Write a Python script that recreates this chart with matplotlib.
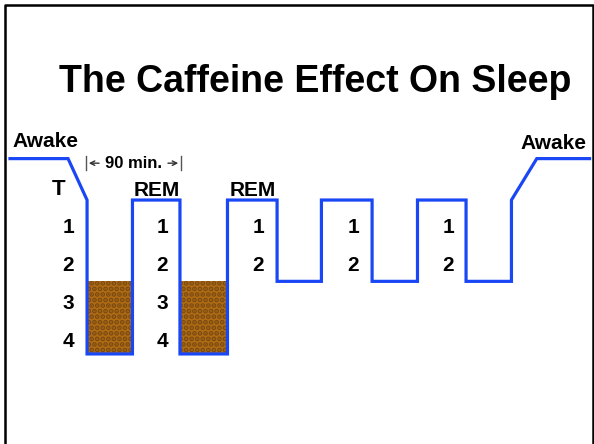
import matplotlib.pyplot as plt
from matplotlib.lines import Line2D

plt.rcParams['font.family'] = ['Liberation Sans', 'DejaVu Sans']
plt.rcParams['hatch.linewidth'] = 2.5

# hypnogram: time (min) and depth (awake < REM top < stage 2 floor < stage 4 floor)
AWAKE, TOP, FLOOR2, FLOOR4 = -0.8, 0.29, 2.43, 4.34
times = [0, 55, 73, 73, 116, 116, 161, 161, 206, 206, 253, 253, 295, 295,
         343, 343, 386, 386, 432, 432, 475, 475, 499, 549]
depths = [AWAKE, AWAKE, TOP, FLOOR4, FLOOR4, TOP, TOP, FLOOR4, FLOOR4, TOP,
          TOP, FLOOR2, FLOOR2, TOP, TOP, FLOOR2, FLOOR2, TOP, TOP, FLOOR2,
          FLOOR2, TOP, AWAKE, AWAKE]

# caffeine-shaded deep sleep windows (start, end)
caffeine = [(73, 116), (161, 206)]

# stage label columns: (time, labels)
columns = [(55, ['1', '2', '3', '4']),
           (144, ['1', '2', '3', '4']),
           (235, ['1', '2']),
           (325, ['1', '2']),
           (415, ['1', '2'])]
rem_labels = [139, 230]
cycle_start, cycle_end = 72, 162

blue = '#1a47f5'

fig = plt.figure(figsize=(5.94, 4.44), dpi=100)
ax = fig.add_axes([0, 0, 1, 1])
ax.set_xlim(-9.47, 553.2)
ax.set_ylim(6.71, -4.974)
ax.axis('off')

for a, b in caffeine:
    ax.fill_between([a, b], FLOOR2, FLOOR4, facecolor='#b06c12',
                    edgecolor='#7a4a14', hatch='...', linewidth=0, zorder=1)

ax.plot(times, depths, color=blue, lw=2.3, solid_joinstyle='miter', zorder=2)

for t, labs in columns:
    for i, s in enumerate(labs):
        ax.text(t, i + 1, s, ha='center', va='center', fontsize=15,
                fontweight='bold')
ax.text(46, 0, 'T', ha='center', va='center', fontsize=16, fontweight='bold')
for t in rem_labels:
    ax.text(t, 0.03, 'REM', ha='center', va='center', fontsize=15,
            fontweight='bold')
ax.text(34, -1.25, 'Awake', ha='center', va='center', fontsize=15,
        fontweight='bold')
ax.text(515, -1.2, 'Awake', ha='center', va='center', fontsize=15,
        fontweight='bold')

# 90 min cycle marker
ymark = -0.68
mid = (cycle_start + cycle_end) / 2
ax.text(mid, ymark, '90 min.', ha='center', va='center', fontsize=12,
        fontweight='bold')
arrow = dict(arrowstyle='->', color='#333333', lw=1, mutation_scale=8)
ax.annotate('', xy=(cycle_start, ymark), xytext=(mid - 30, ymark),
            arrowprops=arrow)
ax.annotate('', xy=(cycle_end, ymark), xytext=(mid + 30, ymark),
            arrowprops=arrow)
ax.plot([cycle_start, cycle_start], [ymark - 0.18, ymark + 0.18],
        color='#555555', lw=1)
ax.plot([cycle_end, cycle_end], [ymark - 0.18, ymark + 0.18],
        color='#555555', lw=1)

fig.text(0.530, 0.815, 'The Caffeine Effect On Sleep', ha='center',
         va='center', fontsize=27, fontweight='bold')

# slide border (top, left, right)
bx0, bx1, by = 5 / 594, 592.5 / 594, 1 - 5 / 444
fig.add_artist(Line2D([bx0, bx0, bx1, bx1], [0, by, by, 0], color='black',
                      lw=1.8, transform=fig.transFigure))

fig.savefig('out.png', dpi=100)
